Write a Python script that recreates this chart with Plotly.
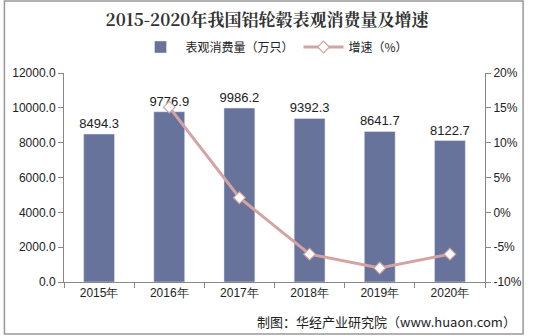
import plotly.graph_objects as go

years = ["2015年", "2016年", "2017年", "2018年", "2019年", "2020年"]
consumption = [8494.3, 9776.9, 9986.2, 9392.3, 8641.7, 8122.7]
growth_years = ["2016年", "2017年", "2018年", "2019年", "2020年"]
growth = [15.1, 2.1, -6.0, -8.0, -6.0]
pct_ticks = [-10, -5, 0, 5, 10, 15, 20]

W, H = 534, 336
ml, mr, mt, mb = 62, 41, 73, 54
pw, ph = W - ml - mr, H - mt - mb

fig = go.Figure()
fig.add_trace(go.Bar(
    x=years, y=consumption, name="表观消费量（万只）",
    marker=dict(color="#67739A"), width=0.44,
    text=[f"{v:.1f}" for v in consumption], textposition="outside",
    constraintext="none",
    textfont=dict(family="Arial, Liberation Sans", size=13, color="#222"),
    cliponaxis=False,
))
fig.add_trace(go.Scatter(
    x=growth_years, y=growth, name="增速（%）", yaxis="y2",
    mode="lines+markers",
    line=dict(color="#D4A3A3", width=3),
    marker=dict(symbol="diamond", size=9, color="white",
                line=dict(color="#D4A3A3", width=1.2)),
))

def px2paper_x(px):
    return (px - ml) / pw

def px2paper_y(py):
    return (H - mb - py) / ph

fig.update_layout(
    width=W, height=H,
    margin=dict(l=ml, r=mr, t=mt, b=mb),
    paper_bgcolor="white", plot_bgcolor="white",
    font=dict(family="Noto Sans CJK SC, Arial", size=12, color="#222"),
    title=dict(text="<b>2015-2020年我国铝轮毂表观消费量及增速</b>",
               x=0.5, xanchor="center", y=1 - 20 / H, yanchor="middle",
               font=dict(family="Noto Serif CJK SC, Noto Sans CJK SC", size=17, color="#333")),
    legend=dict(orientation="h", x=0.5, xanchor="center",
                y=px2paper_y(47), yanchor="middle",
                font=dict(size=12, color="#222"), itemwidth=40,
                bgcolor="rgba(0,0,0,0)"),
    bargap=0.5,
    xaxis=dict(type="category", showline=True, linecolor="#888", linewidth=1,
               ticks="outside", tickson="boundaries", ticklen=5, tickcolor="#888",
               tickfont=dict(family="Arial, Liberation Sans", size=12, color="#222"),
               showgrid=False),
    yaxis=dict(range=[0, 12000], dtick=2000, tickformat=".1f",
               showline=True, linecolor="#888", linewidth=1,
               ticks="outside", ticklen=5, tickcolor="#888",
               tickfont=dict(family="Arial, Liberation Sans", size=12, color="#222"),
               showgrid=False, zeroline=False),
    yaxis2=dict(range=[-10, 20], tickmode="array", tickvals=pct_ticks,
                ticktext=[f"{v}%" for v in pct_ticks], overlaying="y",
                side="right", showline=True, linecolor="#888", linewidth=1,
                ticks="outside", ticklen=5, tickcolor="#888",
                tickfont=dict(family="Arial, Liberation Sans", size=12, color="#222"),
                showgrid=False, zeroline=False),
    shapes=[dict(type="rect", xref="paper", yref="paper",
                 x0=px2paper_x(1), x1=px2paper_x(W - 2),
                 y0=px2paper_y(H - 2), y1=px2paper_y(1),
                 line=dict(color="#999", width=1.5), fillcolor="rgba(0,0,0,0)")],
    annotations=[dict(text="制图：华经产业研究院（www.huaon.com）",
                      xref="paper", yref="paper",
                      x=px2paper_x(527), xanchor="right",
                      y=px2paper_y(321), yanchor="middle",
                      showarrow=False,
                      font=dict(family="Noto Sans CJK SC", size=13, color="#222"))],
)

fig.write_html("out.html")
